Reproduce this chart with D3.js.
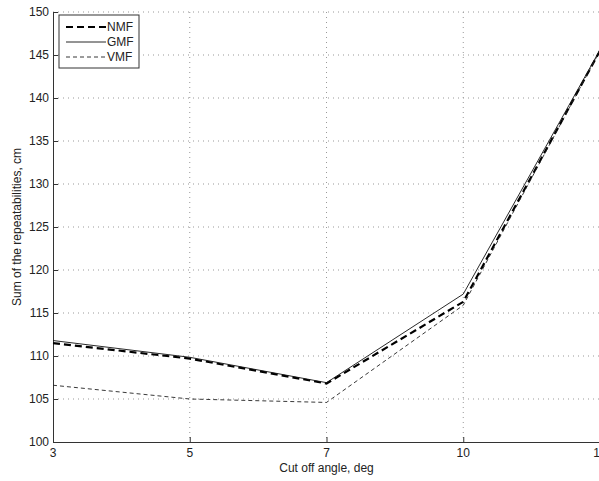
<!DOCTYPE html>
<html>
<head>
<meta charset="utf-8">
<script src="https://cdn.jsdelivr.net/npm/d3@7"></script>
<style>
  body { margin: 0; background: #fff; }
  svg { font-family: "Liberation Sans", Arial, sans-serif; }
</style>
</head>
<body>
<div id="graph"></div>
<script>
// Cut off angles (categorical, evenly spaced)
const angles = ["3", "5", "7", "10", "15"];
const nmf = [111.5, 109.7, 106.8, 116.3, 145.5];
const gmf = [111.8, 109.85, 106.9, 117.2, 145.6];
const vmf = [106.6, 105.0, 104.6, 115.9, 145.5];
const yTicks = [100, 105, 110, 115, 120, 125, 130, 135, 140, 145, 150];

const series = [
  { name: "NMF", values: nmf, width: 2.2, dash: "7,4", color: "#000" },
  { name: "GMF", values: gmf, width: 0.9, dash: null, color: "#111" },
  { name: "VMF", values: vmf, width: 0.9, dash: "4,3", color: "#222" }
];

const width = 599, height = 481;
const mLeft = 53, mRight = 600, mTop = 12, mBottom = 442;

const svg = d3.select("#graph").append("svg")
  .attr("width", width)
  .attr("height", height);

const x = d3.scalePoint().domain(angles).range([mLeft, mRight]);
const y = d3.scaleLinear().domain([100, 150]).range([mBottom, mTop]);

// dotted grid
svg.append("g").selectAll("line")
  .data(yTicks.slice(1))
  .enter().append("line")
    .attr("x1", mLeft).attr("x2", mRight)
    .attr("y1", d => y(d)).attr("y2", d => y(d))
    .attr("stroke", "#999").attr("stroke-width", 1)
    .attr("stroke-dasharray", "1,4");

svg.append("g").selectAll("line")
  .data(angles.slice(1))
  .enter().append("line")
    .attr("x1", d => x(d)).attr("x2", d => x(d))
    .attr("y1", mTop).attr("y2", mBottom)
    .attr("stroke", "#999").attr("stroke-width", 1)
    .attr("stroke-dasharray", "1,4");

// axes, ticks pointing inward like the original
const xAxis = d3.axisTop(x).tickSize(5).tickFormat("");
const yAxis = d3.axisRight(y).tickValues(yTicks).tickSize(5).tickFormat("");

svg.append("g")
  .attr("transform", "translate(0," + mBottom + ")")
  .call(xAxis);
svg.append("g")
  .attr("transform", "translate(" + mLeft + ",0)")
  .call(yAxis);

svg.selectAll(".domain").attr("stroke", "#333");
svg.selectAll(".tick line").attr("stroke", "#333");

// tick labels
svg.append("g").selectAll("text")
  .data(angles)
  .enter().append("text")
    .attr("x", d => x(d)).attr("y", mBottom + 15)
    .attr("text-anchor", "middle")
    .attr("font-size", 12).attr("fill", "#222")
    .text(d => d);

svg.append("g").selectAll("text")
  .data(yTicks)
  .enter().append("text")
    .attr("x", mLeft - 4).attr("y", d => y(d) + 4)
    .attr("text-anchor", "end")
    .attr("font-size", 12).attr("fill", "#222")
    .text(d => d);

// axis titles
svg.append("text")
  .attr("x", (mLeft + mRight) / 2).attr("y", mBottom + 30)
  .attr("text-anchor", "middle")
  .attr("font-size", 12).attr("fill", "#222")
  .text("Cut off angle, deg");

svg.append("text")
  .attr("transform", "translate(21," + ((mTop + mBottom) / 2) + ") rotate(-90)")
  .attr("text-anchor", "middle")
  .attr("font-size", 12).attr("fill", "#222")
  .text("Sum of the repeatabilities, cm");

// lines
const line = d3.line()
  .x((d, i) => x(angles[i]))
  .y(d => y(d));

svg.append("g").selectAll("path")
  .data(series)
  .enter().append("path")
    .attr("d", d => line(d.values))
    .attr("fill", "none")
    .attr("stroke", d => d.color)
    .attr("stroke-width", d => d.width)
    .attr("stroke-dasharray", d => d.dash);

// legend
const legend = svg.append("g").attr("transform", "translate(59,15)");
legend.append("rect")
  .attr("width", 80).attr("height", 53)
  .attr("fill", "#fff").attr("stroke", "#333").attr("stroke-width", 1);

const rows = legend.selectAll("g.row")
  .data(series)
  .enter().append("g")
    .attr("transform", (d, i) => "translate(0," + (12 + i * 15) + ")");

rows.append("line")
  .attr("x1", 7).attr("x2", 47)
  .attr("stroke", d => d.color)
  .attr("stroke-width", d => d.width)
  .attr("stroke-dasharray", d => d.dash);

rows.append("text")
  .attr("x", 48).attr("y", 4)
  .attr("font-size", 12).attr("fill", "#222")
  .text(d => d.name);
</script>
</body>
</html>
